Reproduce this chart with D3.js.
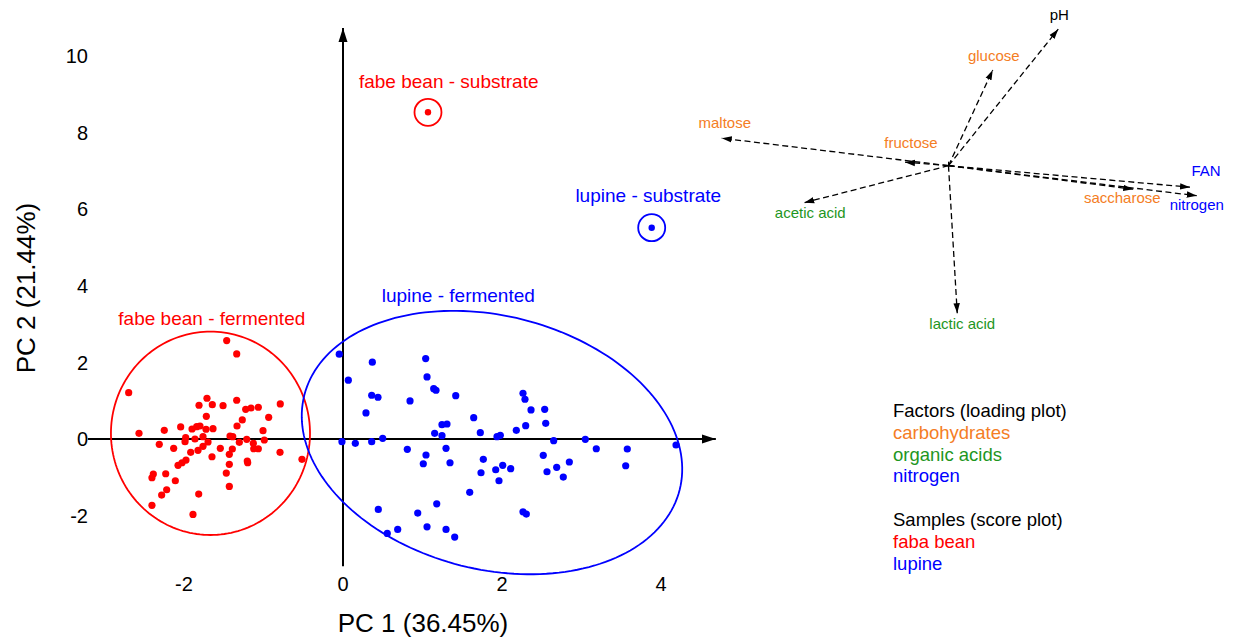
<!DOCTYPE html>
<html>
<head>
<meta charset="utf-8">
<script src="https://cdn.jsdelivr.net/npm/d3@7"></script>
<style>
  body { margin: 0; background: #fff; }
  text { font-family: "Liberation Sans", Arial, sans-serif; }
</style>
</head>
<body>
<svg id="chart" width="1233" height="639"></svg>
<script>
// score plot: fermented samples [PC1, PC2]
const fabaFermented = [
  [-1.463,2.570],[-1.337,2.222],[-2.696,1.210],[-2.566,0.149],[-2.248,0.227],[-2.042,0.314],
  [-1.811,0.881],[-1.711,1.064],[-1.644,0.897],[-1.509,0.871],[-1.337,1.012],[-1.224,0.776],
  [-1.157,0.810],[-1.065,0.829],[-0.789,0.915],[-0.935,0.567],[-1.267,0.497],[-1.719,0.593],
  [-1.899,0.261],[-1.840,0.322],[-1.799,0.340],[-1.723,0.254],[-1.635,0.269],[-1.333,0.340],
  [-1.006,0.217],[-1.979,0.034],[-1.862,0.000],[-1.761,0.060],[-1.421,0.078],[-1.387,0.060],
  [-1.211,-0.008],[-0.990,-0.026],[-2.311,-0.139],[-2.130,-0.243],[-1.987,-0.071],[-1.698,-0.078],
  [-1.761,-0.191],[-1.824,-0.295],[-1.916,-0.348],[-1.543,-0.243],[-1.392,-0.261],[-1.430,-0.400],
  [-1.304,-0.086],[-1.128,-0.112],[-1.123,-0.254],[-1.065,-0.254],[-1.648,-0.463],[-0.792,-0.348],
  [-0.516,-0.531],[-1.204,-0.575],[-1.199,-0.620],[-1.430,-0.661],[-1.975,-0.549],[-2.025,-0.620],
  [-2.075,-0.688],[-2.230,-0.907],[-2.386,-0.915],[-2.403,-1.012],[-2.109,-1.090],[-1.468,-0.889],
  [-1.430,-1.237],[-2.218,-1.325],[-2.281,-1.464],[-1.815,-1.438],[-2.403,-1.733],[-1.887,-1.969]
];
const lupineFermented = [
  [-0.047,2.214],[0.369,2.005],[1.040,2.099],[0.067,1.535],[1.057,1.621],[0.361,1.142],
  [0.440,1.090],[1.141,1.315],[1.170,1.273],[1.418,1.132],[0.843,0.993],[0.289,0.680],
  [1.644,0.557],[1.245,0.374],[1.308,0.392],[1.153,0.149],[1.245,0.086],[1.727,0.165],
  [1.937,0.060],[1.979,0.097],[2.180,0.227],[-0.013,-0.071],[0.155,-0.112],[0.361,-0.071],
  [0.499,0.018],[0.809,-0.269],[1.296,-0.243],[1.044,-0.418],[1.010,-0.646],[1.346,-0.620],
  [1.765,-0.531],[1.736,-0.881],[1.921,-0.803],[2.009,-0.688],[2.109,-0.776],[1.962,-1.090],
  [1.594,-1.393],[1.179,-1.692],[0.444,-1.838],[0.940,-1.935],[0.557,-2.465],[0.688,-2.361],
  [1.057,-2.293],[1.296,-2.361],[1.405,-2.562],[2.264,1.195],[2.289,1.038],[2.365,0.758],
  [2.537,0.776],[2.550,0.410],[2.298,0.348],[2.650,-0.044],[3.048,-0.008],[3.186,-0.254],
  [3.576,-0.261],[3.556,-0.698],[4.189,-0.157],[2.519,-0.426],[2.847,-0.601],[2.688,-0.740],
  [2.566,-0.855],[2.771,-0.993],[2.264,-1.901],[2.306,-1.961]
];
// substrate samples [PC1, PC2]
const fabaSubstrate = [1.069, 8.530];
const lupineSubstrate = [3.883, 5.517];

// group ellipses: centre and two semi-axis vectors, in PC units
const fabaEllipse = { c: [-1.667, 0.149], u: [1.252, 0], v: [0, 2.655] };
const lupineEllipse = { c: [1.874, -0.092], u: [2.361, -1.232], v: [-0.389, -3.211] };

const xTicks = [-2, 0, 2, 4];
const yTicks = [-2, 0, 2, 4, 6, 8, 10];

// loading plot
const loadingNames = ['maltose', 'fructose', 'glucose', 'pH', 'acetic acid', 'lactic acid', 'saccharose', 'FAN', 'nitrogen'];
const loadingGroups = ['carbohydrates', 'carbohydrates', 'carbohydrates', 'other', 'organic acids', 'organic acids', 'carbohydrates', 'nitrogen', 'nitrogen'];
const loadingPC1 = [-0.907, -0.174, 0.177, 0.439, -0.577, 0.035, 0.739, 0.966, 0.993];
const loadingPC2 = [0.110, 0.014, 0.383, 0.546, -0.148, -0.590, -0.094, -0.086, -0.120];

const groupColor = {
  carbohydrates: '#f47d24',
  'organic acids': '#1e961e',
  nitrogen: '#0000ff',
  other: '#000000'
};
const red = '#ff0000', blue = '#0000ff';

// label placement relative to arrow tip (px)
const loadingLabelOffset = {
  'maltose': [3, -10], 'fructose': [6, -14], 'glucose': [1, -9], 'pH': [1, -9],
  'acetic acid': [6, 15], 'lactic acid': [5, 16], 'saccharose': [-11, 14],
  'FAN': [16, -11], 'nitrogen': [0, 14]
};

const svg = d3.select('#chart');
svg.append('rect').attr('width', 1233).attr('height', 639).attr('fill', '#fff');

const x = d3.scaleLinear().domain([-3, 5]).range([343 - 3 * 79.5, 343 + 5 * 79.5]);
const y = d3.scaleLinear().domain([-3, 11]).range([439 + 3 * 38.3, 439 - 11 * 38.3]);

const defs = svg.append('defs');
defs.append('marker')
  .attr('id', 'axisHead')
  .attr('viewBox', '0 -5 14 10')
  .attr('refX', 14).attr('refY', 0)
  .attr('markerWidth', 14).attr('markerHeight', 10)
  .attr('markerUnits', 'userSpaceOnUse')
  .attr('orient', 'auto')
  .append('path').attr('d', 'M0,-4.5L14,0L0,4.5Z').attr('fill', '#000');
defs.append('marker')
  .attr('id', 'loadHead')
  .attr('viewBox', '0 -4 10 8')
  .attr('refX', 10).attr('refY', 0)
  .attr('markerWidth', 10).attr('markerHeight', 8)
  .attr('markerUnits', 'userSpaceOnUse')
  .attr('orient', 'auto')
  .append('path').attr('d', 'M0,-3.2L10,0L0,3.2Z').attr('fill', '#000');

// axes through the origin
const xAxisExtent = [-3.21, 4.69];
const yAxisExtent = [-3.32, 10.73];
svg.append('line')
  .attr('x1', x(xAxisExtent[0])).attr('x2', x(xAxisExtent[1]))
  .attr('y1', y(0)).attr('y2', y(0))
  .attr('stroke', '#000').attr('stroke-width', 2)
  .attr('marker-end', 'url(#axisHead)');
svg.append('line')
  .attr('x1', x(0)).attr('x2', x(0))
  .attr('y1', y(yAxisExtent[0])).attr('y2', y(yAxisExtent[1]))
  .attr('stroke', '#000').attr('stroke-width', 2)
  .attr('marker-end', 'url(#axisHead)');

svg.append('g').selectAll('text')
  .data(xTicks)
  .enter().append('text')
    .attr('x', d => x(d))
    .attr('y', 591)
    .attr('text-anchor', 'middle')
    .style('font-size', '20px')
    .text(d => d);
svg.append('g').selectAll('text')
  .data(yTicks)
  .enter().append('text')
    .attr('x', 88)
    .attr('y', d => y(d))
    .attr('dy', '0.36em')
    .attr('text-anchor', 'end')
    .style('font-size', '20px')
    .text(d => d);

svg.append('text')
  .attr('x', 423).attr('y', 632)
  .attr('text-anchor', 'middle')
  .style('font-size', '26px')
  .text('PC 1 (36.45%)');
svg.append('text')
  .attr('transform', 'translate(35,288) rotate(-90)')
  .attr('text-anchor', 'middle')
  .style('font-size', '26px')
  .text('PC 2 (21.44%)');

// ellipses
function ellipsePath(e) {
  const ts = d3.range(0, 2 * Math.PI + 0.001, Math.PI / 90);
  return d3.line()
    .x(t => x(e.c[0] + e.u[0] * Math.cos(t) + e.v[0] * Math.sin(t)))
    .y(t => y(e.c[1] + e.u[1] * Math.cos(t) + e.v[1] * Math.sin(t)))(ts) + 'Z';
}
svg.append('path').attr('d', ellipsePath(fabaEllipse))
  .attr('fill', 'none').attr('stroke', red).attr('stroke-width', 1.8);
svg.append('path').attr('d', ellipsePath(lupineEllipse))
  .attr('fill', 'none').attr('stroke', blue).attr('stroke-width', 1.8);

// points
svg.append('g').selectAll('circle')
  .data(fabaFermented)
  .enter().append('circle')
    .attr('cx', d => x(d[0])).attr('cy', d => y(d[1]))
    .attr('r', 3.6).attr('fill', red);
svg.append('g').selectAll('circle')
  .data(lupineFermented)
  .enter().append('circle')
    .attr('cx', d => x(d[0])).attr('cy', d => y(d[1]))
    .attr('r', 3.6).attr('fill', blue);

[[fabaSubstrate, red], [lupineSubstrate, blue]].forEach(([p, col]) => {
  svg.append('circle').attr('cx', x(p[0])).attr('cy', y(p[1]))
    .attr('r', 13.5).attr('fill', 'none').attr('stroke', col).attr('stroke-width', 1.8);
  svg.append('circle').attr('cx', x(p[0])).attr('cy', y(p[1]))
    .attr('r', 3.2).attr('fill', col);
});

// group annotations (anchored in PC units)
const groupLabels = [
  { text: 'fabe bean - substrate', pos: [1.33, 9.17], color: red },
  { text: 'lupine - substrate', pos: [3.84, 6.20], color: blue },
  { text: 'lupine - fermented', pos: [1.45, 3.58], color: blue },
  { text: 'fabe bean - fermented', pos: [-1.65, 2.98], color: red }
];
svg.append('g').selectAll('text')
  .data(groupLabels)
  .enter().append('text')
    .attr('x', d => x(d.pos[0])).attr('y', d => y(d.pos[1]))
    .attr('text-anchor', 'middle')
    .style('font-size', '19px')
    .attr('fill', d => d.color)
    .text(d => d.text);

// loading plot
const lx = d3.scaleLinear().domain([-1, 1]).range([948.5 - 250, 948.5 + 250]);
const ly = d3.scaleLinear().domain([-1, 1]).range([165.7 + 250, 165.7 - 250]);

const loadings = loadingNames.map((n, i) => ({
  name: n, group: loadingGroups[i], pc1: loadingPC1[i], pc2: loadingPC2[i]
}));

const lg = svg.append('g');
lg.selectAll('line.load')
  .data(loadings)
  .enter().append('line')
    .attr('class', 'load')
    .attr('x1', lx(0)).attr('y1', ly(0))
    .attr('x2', d => lx(d.pc1)).attr('y2', d => ly(d.pc2))
    .attr('stroke', '#000').attr('stroke-width', 1.3)
    .attr('stroke-dasharray', '6,3.5')
    .attr('marker-end', 'url(#loadHead)');
lg.append('line').attr('x1', lx(0) - 4).attr('x2', lx(0) + 4).attr('y1', ly(0)).attr('y2', ly(0))
  .attr('stroke', '#000').attr('stroke-width', 1);
lg.append('line').attr('x1', lx(0)).attr('x2', lx(0)).attr('y1', ly(0) - 4).attr('y2', ly(0) + 4)
  .attr('stroke', '#000').attr('stroke-width', 1);
lg.selectAll('text')
  .data(loadings)
  .enter().append('text')
    .attr('x', d => lx(d.pc1) + loadingLabelOffset[d.name][0])
    .attr('y', d => ly(d.pc2) + loadingLabelOffset[d.name][1])
    .attr('text-anchor', 'middle')
    .style('font-size', '15px')
    .attr('fill', d => groupColor[d.group])
    .text(d => d.name);

// legend
const legendLines = [
  { text: 'Factors (loading plot)', color: '#000' },
  { text: 'carbohydrates', color: groupColor.carbohydrates },
  { text: 'organic acids', color: groupColor['organic acids'] },
  { text: 'nitrogen', color: groupColor.nitrogen },
  null,
  { text: 'Samples (score plot)', color: '#000' },
  { text: 'faba bean', color: red },
  { text: 'lupine', color: blue }
];
const legend = svg.append('g').attr('transform', 'translate(893,417)');
legendLines.forEach((l, i) => {
  if (!l) return;
  legend.append('text')
    .attr('x', 0).attr('y', i * 21.8)
    .style('font-size', '18.5px')
    .attr('fill', l.color)
    .text(l.text);
});
</script>
</body>
</html>
